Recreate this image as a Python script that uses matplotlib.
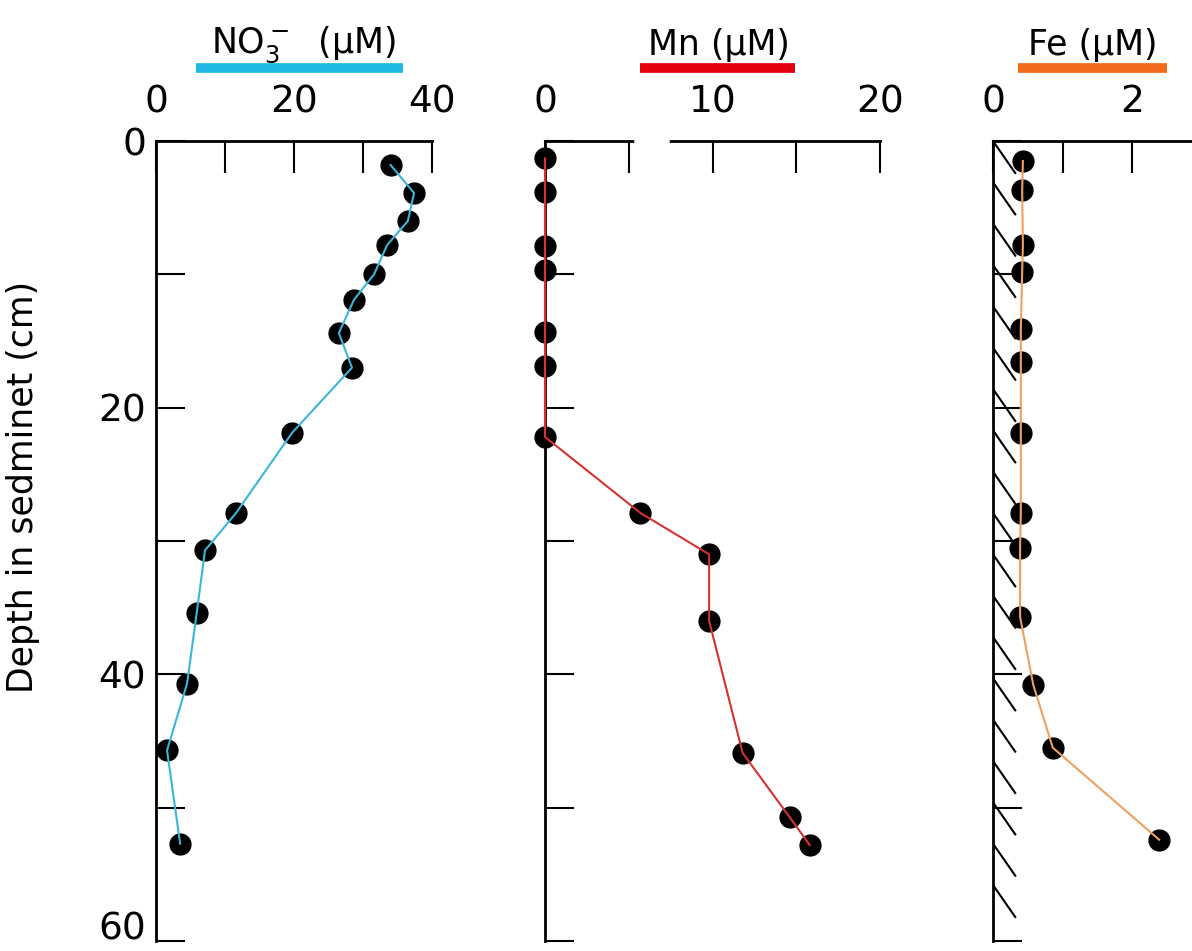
import numpy as np
import matplotlib
from matplotlib import pyplot as plt
from matplotlib.transforms import ScaledTranslation

matplotlib.rc('font', family='DejaVu Sans')
matplotlib.rc('mathtext', fontset='dejavusans')

# NO3 profile (uM) vs depth (cm)
no3_depth = [1.8, 3.9, 6.0, 7.8, 10.0, 11.9, 14.4, 17.0, 21.9, 27.9, 30.7, 35.4, 40.7, 45.7, 52.7]
no3_conc = [34.0, 37.4, 36.5, 33.5, 31.6, 28.7, 26.5, 28.4, 19.7, 11.6, 7.1, 5.9, 4.5, 1.6, 3.5]

# Mn profile
mn_depth = [1.3, 3.8, 7.9, 9.7, 14.3, 16.9, 22.2, 27.9, 31.0, 36.0, 45.9, 50.7, 52.8]
mn_conc = [0, 0, 0, 0, 0, 0, 0, 5.7, 9.8, 9.8, 11.8, 14.6, 15.8]

# Fe profile
fe_depth = [1.5, 3.7, 7.8, 9.8, 14.1, 16.6, 21.9, 27.9, 30.5, 35.7, 40.8, 45.5, 52.4]
fe_conc = [0.43, 0.42, 0.43, 0.42, 0.40, 0.40, 0.40, 0.40, 0.39, 0.39, 0.58, 0.86, 2.39]

W, H = 1192, 951
fig = plt.figure(figsize=(W / 100, H / 100), dpi=100)
bot = 1 - 941 / H
hgt = 800 / H

ax1 = fig.add_axes([156 / W, bot, 276 / W, hgt])
ax2 = fig.add_axes([545 / W, bot, 335 / W, hgt])
ax3 = fig.add_axes([993 / W, bot, 199 / W, hgt])

panels = [
    (ax1, no3_conc, no3_depth, (0, 40), [0, 10, 20, 30, 40], ['0', '', '20', '', '40'],
     '#3bb5dc', '#1fb9e3', r'NO$_3^-$  (μM)', 21.3, (5.8, 35.8)),
    (ax2, mn_conc, mn_depth, (0, 20), [0, 5, 10, 15, 20], ['0', '', '10', '', '20'],
     '#d93030', '#e3000f', 'Mn (μM)', 10.4, (5.7, 14.9)),
    (ax3, fe_conc, fe_depth, (0, 2.863), [0, 1, 2], ['0', '', '2'],
     '#f0a060', '#f26a1b', 'Fe (μM)', 1.44, (0.36, 2.5)),
]

for ax, conc, depth, xlim, xt, xtl, lc, bc, title, tx, bar in panels:
    ax.scatter(conc, depth, s=15 ** 2, color='black', zorder=3, clip_on=False)
    ax.plot(conc, depth, color=lc, lw=1.5, zorder=4, clip_on=False)
    ax.set_xlim(*xlim)
    ax.set_ylim(60, 0)
    for s in ['right', 'bottom']:
        ax.spines[s].set_visible(False)
    for s in ['left', 'top']:
        ax.spines[s].set_linewidth(2)
    ax.xaxis.tick_top()
    ax.set_xticks(xt)
    ax.set_xticklabels(xtl)
    ax.set_yticks(range(0, 61, 10))
    if ax is ax1:
        ax.set_yticklabels(['0', '', '20', '', '40', '', '60'])
    else:
        ax.set_yticklabels([])
    ax.tick_params(axis='x', direction='in', length=23, width=1.5, pad=15, labelsize=27)
    ax.tick_params(axis='y', direction='in', length=21, width=1.5, pad=7, labelsize=27)
    tr = ax.get_xaxis_transform()
    ax.text(tx, 1.12, title, transform=tr, ha='center', va='center', fontsize=25)
    ax.plot(bar, [1.091, 1.091], transform=tr, color=bc, lw=7,
            solid_capstyle='butt', clip_on=False)

# nudge the bottom depth label up so it stays inside the figure
lab60 = ax1.get_yticklabels()[-1]
lab60.set_transform(lab60.get_transform() + ScaledTranslation(0, 15 / 100, fig.dpi_scale_trans))

# break in the top axis of the Mn panel
ax2.plot([5.5, 7.3], [0, 0], color='white', lw=4, zorder=5, clip_on=False)

# hatching along the Fe axis
for d in np.arange(0, 58, 3.1):
    ax3.plot([0, 0.32], [d, d + 2.4], color='black', lw=1.5, zorder=2)

ax1.set_ylabel('Depth in sedminet (cm)', fontsize=25)
ax1.yaxis.set_label_coords((40 - 156) / 276, (941 - 487) / 800)

fig.savefig('out.png', dpi=100)
